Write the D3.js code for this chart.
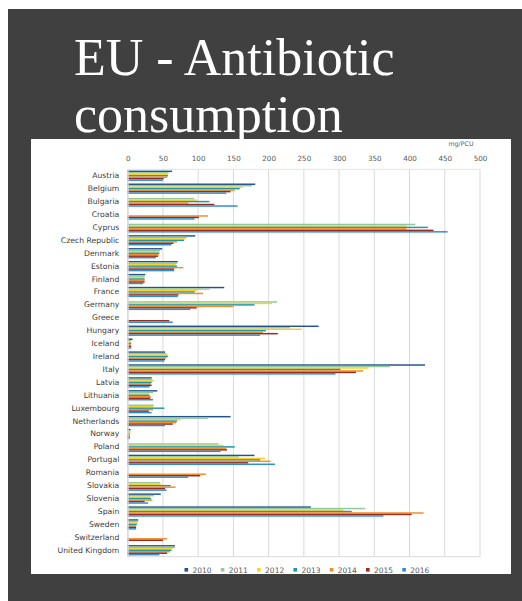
<!DOCTYPE html>
<html>
<head>
<meta charset="utf-8">
<script src="https://cdn.jsdelivr.net/npm/d3@7"></script>
<style>
  html, body { margin: 0; padding: 0; background: #404040; }
  svg { display: block; }
</style>
</head>
<body>
<svg id="chart" width="522" height="601"></svg>
<script>
// Countries, top to bottom
const countries = ["Austria", "Belgium", "Bulgaria", "Croatia", "Cyprus", "Czech Republic",
  "Denmark", "Estonia", "Finland", "France", "Germany", "Greece", "Hungary", "Iceland",
  "Ireland", "Italy", "Latvia", "Lithuania", "Luxembourg", "Netherlands", "Norway",
  "Poland", "Portugal", "Romania", "Slovakia", "Slovenia", "Spain", "Sweden",
  "Switzerland", "United Kingdom"];

const years = ["2010", "2011", "2012", "2013", "2014", "2015", "2016"];

// Sales in mg/PCU per year, one value per country (null = not reported)
const sales2010 = [63, 181, null, null, null, 96, 49, 71, 25, 137, null, null, 271, 7, 53, 422, 34, 42, null, 146, 4, null, 180, null, null, 47, 260, 15, null, 67];
const sales2011 = [58, 176, 94, null, 408, 84, 46, 70, 24, 116, 212, null, 230, 5, 55, 372, 35, 36, 37, 114, 4, 129, 158, null, 46, 37, 337, 14, null, 67];
const sales2012 = [57, 163, 98, null, 396, 82, 45, 68, 24, 98, 205, null, 247, 5, 57, 342, 37, 30, 36, 75, 4, 136, 195, null, 47, 32, 306, 14, null, 64];
const sales2013 = [57, 159, 116, null, 426, 80, 45, 70, 24, 95, 180, null, 196, 5, 57, 302, 34, 31, 52, 70, 3, 152, 188, null, 61, 33, 318, 13, null, 62];
const sales2014 = [56, 152, 86, 114, 396, 70, 44, 79, 24, 107, 150, null, 192, 5, 55, 334, 33, 33, 36, 69, 3, 140, 203, 111, 68, 35, 420, 12, 56, 60];
const sales2015 = [51, 146, 123, 101, 434, 65, 43, 66, 24, 72, 98, 59, 213, 5, 53, 324, 34, 32, 30, 64, 3, 141, 171, 103, 53, 24, 403, 12, 50, 56];
const sales2016 = [50, 140, 156, 95, 454, 62, 40, 66, 22, 71, 89, 64, 188, 5, 52, 295, 31, 36, 34, 53, 3, 132, 209, 86, 55, 29, 363, 12, null, 45];

const xTicks = [0, 50, 100, 150, 200, 250, 300, 350, 400, 450, 500];
const unitLabel = "mg/PCU";
const titleLines = ["EU - Antibiotic", "consumption"];

const yearColors = ["#23548f", "#93c89c", "#f5d327", "#1b9aaa", "#f28e2b", "#9b2a1f", "#2e8fd0"];

// Rows for the grouped bars
const seriesByYear = [sales2010, sales2011, sales2012, sales2013, sales2014, sales2015, sales2016];
const rows = [];
countries.forEach((c, i) => {
  years.forEach((yr, j) => {
    const v = seriesByYear[j][i];
    if (v != null) rows.push({ country: c, year: yr, value: v });
  });
});

const svg = d3.select("#chart");
const W = 522, H = 601;

// Slide backdrop
svg.append("rect").attr("width", W).attr("height", H).attr("fill", "#404040");
svg.append("rect").attr("x", 0).attr("y", 0).attr("width", W).attr("height", 9).attr("fill", "#ffffff");
svg.append("rect").attr("x", 0).attr("y", 0).attr("width", 8).attr("height", H).attr("fill", "#ffffff");

// Title
svg.append("g")
  .selectAll("text")
  .data(titleLines)
  .join("text")
  .attr("x", 74)
  .attr("y", (d, i) => 75 + i * 56.5)
  .attr("fill", "#ffffff")
  .attr("font-family", "'Liberation Serif', 'Times New Roman', serif")
  .attr("font-size", 52)
  .text(d => d);

// Chart panel
svg.append("rect")
  .attr("x", 31).attr("y", 139)
  .attr("width", 480).attr("height", 435)
  .attr("fill", "#ffffff");

const plot = { left: 127.7, right: 480, top: 169.3, bottom: 556.7 };

const x = d3.scaleLinear().domain([0, 500]).range([plot.left, plot.right]);
const y = d3.scaleBand().domain(countries).range([plot.top, plot.bottom])
  .paddingInner(0.2).paddingOuter(0.1);
const yInner = d3.scaleBand().domain(years).range([0, y.bandwidth()]);

const labelFont = "'DejaVu Sans', Verdana, sans-serif";

// Gridlines
svg.append("g")
  .selectAll("line")
  .data(xTicks)
  .join("line")
  .attr("x1", d => x(d)).attr("x2", d => x(d))
  .attr("y1", plot.top).attr("y2", plot.bottom)
  .attr("stroke", "#d9d9d9").attr("stroke-width", 1);

svg.append("line")
  .attr("x1", plot.left).attr("x2", plot.right)
  .attr("y1", plot.top).attr("y2", plot.top)
  .attr("stroke", "#e3e3e3");
svg.append("line")
  .attr("x1", plot.left).attr("x2", plot.right)
  .attr("y1", plot.bottom).attr("y2", plot.bottom)
  .attr("stroke", "#d9d9d9");

// Bars
const color = d3.scaleOrdinal().domain(years).range(yearColors);
svg.append("g")
  .selectAll("rect")
  .data(rows)
  .join("rect")
  .attr("x", x(0))
  .attr("y", d => y(d.country) + yInner(d.year))
  .attr("width", d => x(d.value) - x(0))
  .attr("height", yInner.bandwidth())
  .attr("fill", d => color(d.year));

// Value axis along the top
const xAxis = svg.append("g")
  .attr("transform", `translate(0,${plot.top})`)
  .call(d3.axisTop(x).tickValues(xTicks).tickSize(0).tickPadding(8.5));
xAxis.select(".domain").remove();
xAxis.selectAll("text")
  .attr("fill", "#595959")
  .attr("font-family", labelFont)
  .attr("font-size", 7.2);

// Category axis
const yAxis = svg.append("g")
  .attr("transform", `translate(${plot.left},0)`)
  .call(d3.axisLeft(y).tickSize(0).tickPadding(8.4));
yAxis.select(".domain").attr("stroke", "#d9d9d9");
yAxis.selectAll("text")
  .attr("fill", "#404040")
  .attr("font-family", labelFont)
  .attr("font-size", 7.7);

// Unit label
svg.append("text")
  .attr("x", 473.5).attr("y", 146)
  .attr("text-anchor", "end")
  .attr("fill", "#595959")
  .attr("font-family", labelFont)
  .attr("font-size", 6.3)
  .text(unitLabel);

// Legend
const legend = svg.append("g")
  .selectAll("g")
  .data(years)
  .join("g")
  .attr("transform", (d, i) => `translate(${184.5 + i * 36.3},569.8)`);
legend.append("rect")
  .attr("x", 0).attr("y", -1.8)
  .attr("width", 3.6).attr("height", 3.6)
  .attr("fill", d => color(d));
legend.append("text")
  .attr("x", 8).attr("y", 2.8)
  .attr("fill", "#595959")
  .attr("font-family", labelFont)
  .attr("font-size", 7.5)
  .text(d => d);
</script>
</body>
</html>
